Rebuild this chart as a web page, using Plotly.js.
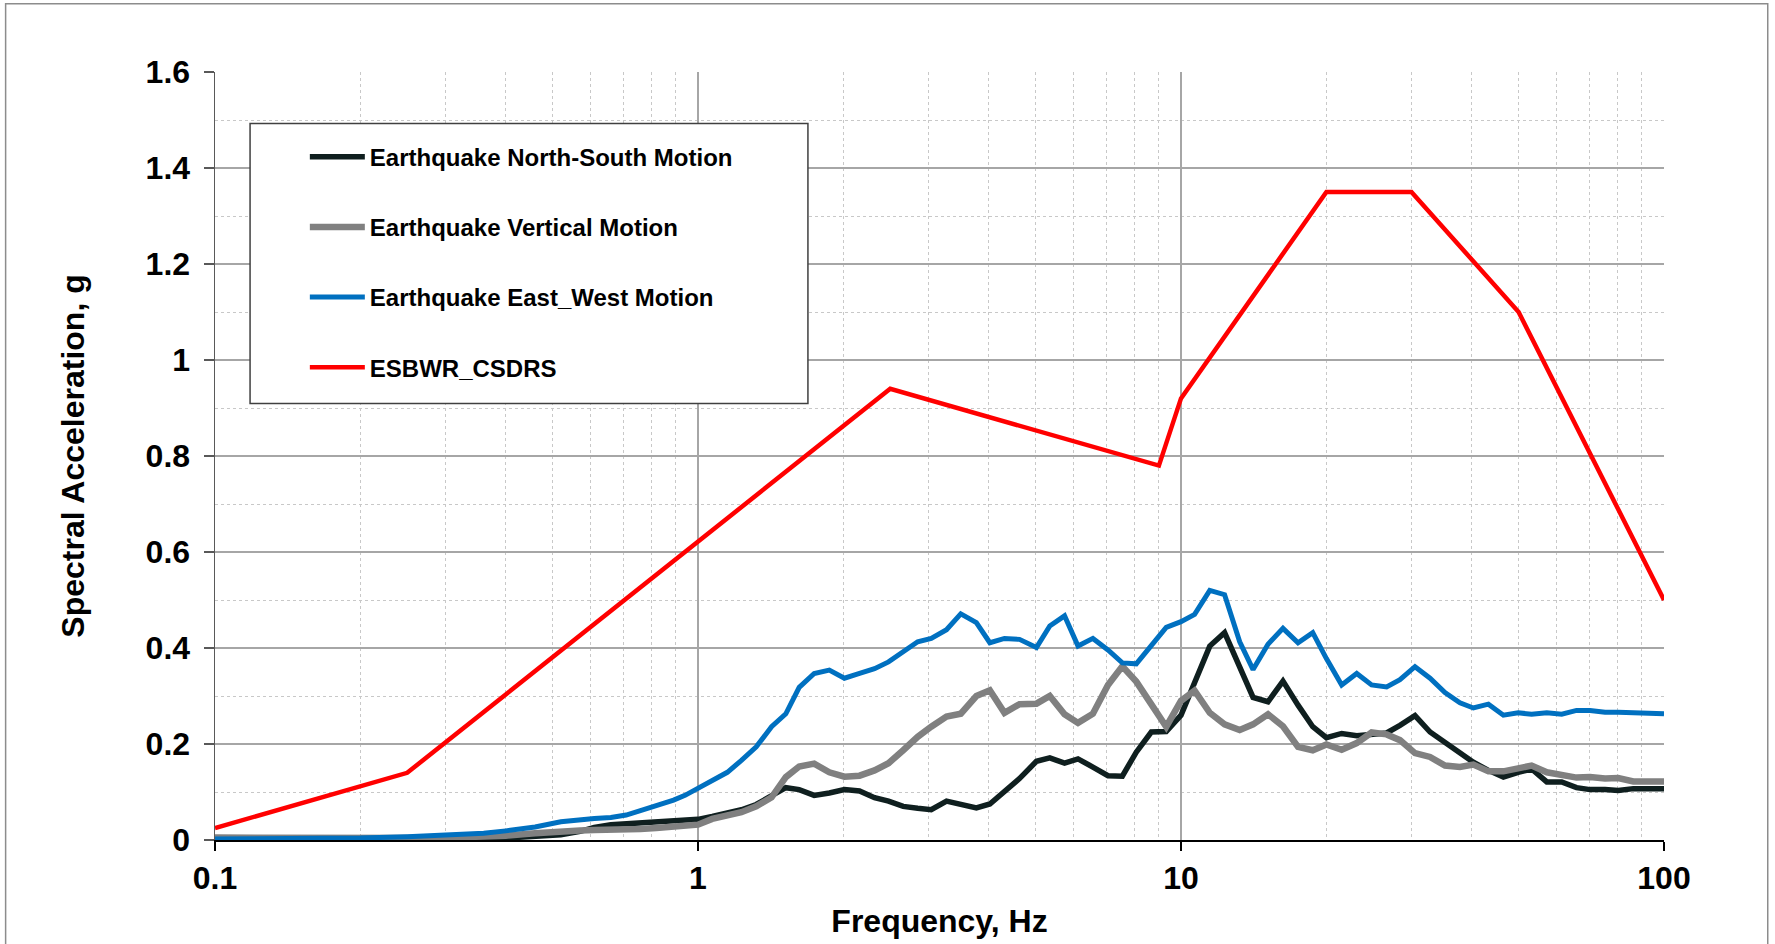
<!DOCTYPE html>
<html>
<head>
<meta charset="utf-8">
<script src="https://cdn.plot.ly/plotly-3.0.1.min.js"></script>
<style>
  html, body { margin: 0; padding: 0; background: #ffffff; }
  #chart { width: 1775px; height: 944px; }
</style>
</head>
<body>
<div id="chart"></div>
<script>
// ---- Data ----
// Shared frequency grid (Hz) of the three recorded earthquake spectra
const freqHz = [
  0.1, 0.13, 0.16, 0.2, 0.25, 0.28, 0.31, 0.36, 0.4, 0.46, 0.52, 0.57, 0.61, 0.66, 0.71, 0.76, 0.82, 0.89, 0.94,
  1.0, 1.07, 1.15, 1.23, 1.32, 1.42, 1.52, 1.62, 1.74, 1.87, 2.01, 2.16, 2.32, 2.48, 2.66, 2.85, 3.04, 3.27,
  3.5, 3.77, 4.02, 4.31, 4.63, 5.02, 5.35, 5.74, 6.12, 6.57, 7.06, 7.56, 8.08, 8.68, 9.32,
  10, 10.67, 11.47, 12.31, 13.23, 14.1, 15.14, 16.26, 17.47, 18.74, 20.0, 21.51, 23.11, 24.81, 26.65, 28.4,
  30.51, 32.78, 35.2, 37.8, 40.3, 43.3, 46.5, 49.9, 53.2, 57.2, 61.4, 65.9, 70.3, 75.5, 80.4, 86.4, 92.8, 100
];

const northSouth = [
  0.001, 0.001, 0.001, 0.001, 0.001, 0.002, 0.002, 0.003, 0.004, 0.007, 0.011, 0.018, 0.026, 0.032, 0.034, 0.036, 0.039, 0.041, 0.042,
  0.043, 0.049, 0.056, 0.063, 0.074, 0.093, 0.109, 0.105, 0.093, 0.098, 0.105, 0.102, 0.088, 0.081, 0.070, 0.066, 0.063, 0.081,
  0.075, 0.067, 0.075, 0.102, 0.128, 0.164, 0.171, 0.160, 0.169, 0.152, 0.134, 0.133, 0.183, 0.225, 0.226,
  0.260, 0.326, 0.404, 0.432, 0.361, 0.297, 0.288, 0.331, 0.281, 0.236, 0.213, 0.222, 0.217, 0.220, 0.223, 0.239,
  0.259, 0.225, 0.204, 0.183, 0.162, 0.145, 0.131, 0.141, 0.148, 0.121, 0.121, 0.109, 0.105, 0.105, 0.103, 0.107, 0.107, 0.107
];

const vertical = [
  0.005, 0.004, 0.005, 0.004, 0.003, 0.004, 0.005, 0.006, 0.009, 0.014, 0.019, 0.020, 0.021, 0.021, 0.021, 0.023, 0.025, 0.028, 0.030,
  0.032, 0.044, 0.051, 0.058, 0.070, 0.089, 0.131, 0.153, 0.159, 0.141, 0.132, 0.134, 0.145, 0.160, 0.187, 0.215, 0.236, 0.257,
  0.263, 0.300, 0.312, 0.265, 0.283, 0.284, 0.300, 0.262, 0.244, 0.263, 0.323, 0.362, 0.330, 0.284, 0.236,
  0.290, 0.311, 0.265, 0.241, 0.229, 0.241, 0.262, 0.237, 0.194, 0.187, 0.199, 0.188, 0.202, 0.224, 0.220, 0.208,
  0.181, 0.173, 0.155, 0.152, 0.157, 0.143, 0.143, 0.151, 0.155, 0.141, 0.137, 0.130, 0.131, 0.128, 0.129, 0.122, 0.122, 0.122
];

const eastWest = [
  0.002, 0.002, 0.003, 0.004, 0.007, 0.009, 0.010, 0.014, 0.019, 0.027, 0.038, 0.043, 0.045, 0.047, 0.052, 0.061, 0.071, 0.083, 0.093,
  0.107, 0.124, 0.141, 0.166, 0.194, 0.236, 0.263, 0.318, 0.347, 0.354, 0.337, 0.347, 0.357, 0.371, 0.392, 0.413, 0.420, 0.438,
  0.471, 0.453, 0.411, 0.420, 0.418, 0.401, 0.446, 0.467, 0.404, 0.420, 0.396, 0.369, 0.367, 0.406, 0.443,
  0.455, 0.470, 0.520, 0.511, 0.413, 0.355, 0.408, 0.441, 0.411, 0.432, 0.378, 0.323, 0.347, 0.323, 0.319, 0.334,
  0.361, 0.337, 0.307, 0.286, 0.275, 0.283, 0.260, 0.265, 0.262, 0.265, 0.262, 0.270, 0.270, 0.266, 0.266, 0.265, 0.263, 0.263
];

// Design spectrum (ESBWR CSDRS) corner points
const csdrsFreqHz = [0.1, 0.25, 2.5, 9, 10, 20, 30, 50, 100];
const csdrsAccel  = [0.025, 0.14, 0.94, 0.78, 0.92, 1.35, 1.35, 1.1, 0.5];

// Series names
const seriesNames = [
  'Earthquake North-South Motion',
  'Earthquake Vertical Motion',
  'Earthquake East_West Motion',
  'ESBWR_CSDRS'
];

// Axis tick labels
const xTickVals = [0.1, 1, 10, 100];
const xTickText = ['0.1', '1', '10', '100'];
const xMinorVals = [0.2, 0.3, 0.4, 0.5, 0.6, 0.7, 0.8, 0.9, 2, 3, 4, 5, 6, 7, 8, 9, 20, 30, 40, 50, 60, 70, 80, 90];

// ---- Chart ----
const FONT = '"Liberation Sans", Arial, Helvetica, sans-serif';

const traces = [
  { x: freqHz, y: northSouth, name: seriesNames[0], legendgroup: 'a',
    mode: 'lines', line: { color: '#0f1f1f', width: 5.5 } },
  { x: freqHz, y: vertical, name: seriesNames[1], legendgroup: 'b',
    mode: 'lines', line: { color: '#808080', width: 6.5 } },
  { x: freqHz, y: eastWest, name: seriesNames[2], legendgroup: 'c',
    mode: 'lines', line: { color: '#0070c0', width: 5 } },
  { x: csdrsFreqHz, y: csdrsAccel, name: seriesNames[3], legendgroup: 'd',
    mode: 'lines', line: { color: '#ff0000', width: 4.5 } }
];

const layout = {
  width: 1775,
  height: 944,
  margin: { l: 215, r: 111, t: 72, b: 104, pad: 0 },
  paper_bgcolor: '#ffffff',
  plot_bgcolor: '#ffffff',
  font: { family: FONT, color: '#000000' },
  showlegend: true,
  legend: {
    x: 0.062, y: 0.9185, xanchor: 'left', yanchor: 'top',
    bgcolor: 'rgba(0,0,0,0)', borderwidth: 0,
    font: { family: FONT, size: 24, weight: 'bold', color: '#000000' },
    tracegroupgap: 36,
    itemwidth: 55
  },
  xaxis: {
    type: 'log',
    range: [-1, 2],
    tickmode: 'array',
    tickvals: xTickVals,
    ticktext: xTickText,
    ticks: 'outside', ticklen: 9, tickwidth: 1.2, tickcolor: '#000000',
    ticklabelstandoff: 0,
    tickfont: { family: FONT, size: 32, weight: 'bold', color: '#000000' },
    showgrid: true, gridcolor: '#a6a6a6', gridwidth: 1.3,
    minor: { tickmode: 'array', tickvals: xMinorVals, showgrid: true,
             gridcolor: '#c8c8c8', gridwidth: 1, griddash: 'dot', ticks: '' },
    showline: true, linecolor: '#000000', linewidth: 1.5,
    zeroline: false,
    title: { text: 'Frequency, Hz', standoff: 14,
             font: { family: FONT, size: 32, weight: 'bold', color: '#000000' } }
  },
  yaxis: {
    range: [0, 1.6],
    dtick: 0.2,
    tick0: 0,
    ticks: 'outside', ticklen: 10, tickwidth: 1.2, tickcolor: '#595959',
    ticklabelstandoff: 7,
    tickfont: { family: FONT, size: 32, weight: 'bold', color: '#000000' },
    showgrid: true, gridcolor: '#a6a6a6', gridwidth: 1.3,
    minor: { dtick: 0.1, showgrid: true, gridcolor: '#c8c8c8', gridwidth: 1, griddash: 'dot', ticks: '' },
    showline: true, linecolor: '#595959', linewidth: 1.5,
    zeroline: false,
    title: { text: 'Spectral Acceleration, g', standoff: 51,
             font: { family: FONT, size: 32, weight: 'bold', color: '#000000' } }
  },
  shapes: [
    // outer chart-area border
    { type: 'rect', xref: 'paper', yref: 'paper',
      x0: -0.1445, x1: 1.0716, y0: -0.25, y1: 1.089,
      line: { color: '#8c8c8c', width: 1.5 }, fillcolor: 'rgba(0,0,0,0)', layer: 'below' },
    // legend frame
    { type: 'rect', xref: 'paper', yref: 'paper',
      x0: 0.0242, x1: 0.4092, y0: 0.5683, y1: 0.9329,
      line: { color: '#404040', width: 1.5 }, fillcolor: '#ffffff', layer: 'above' }
  ]
};

Plotly.newPlot('chart', traces, layout, { displayModeBar: false, staticPlot: true });
</script>
</body>
</html>
